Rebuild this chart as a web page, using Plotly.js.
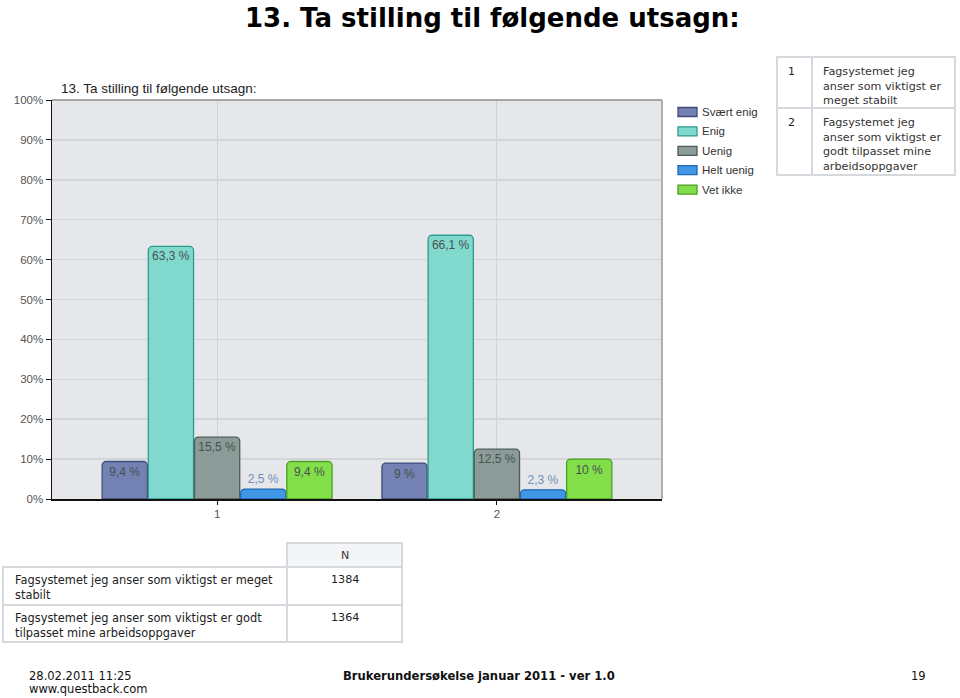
<!DOCTYPE html>
<html><head><meta charset="utf-8">
<script src="https://cdn.plot.ly/plotly-3.0.1.min.js"></script>
<style>html,body{margin:0;padding:0;background:#fff;}#chart{width:960px;height:698px;}</style>
</head><body><div id="chart"></div>
<script>
// ---- data ----
const pageTitle = '13. Ta stilling til følgende utsagn:';
const chartTitle = '13. Ta stilling til følgende utsagn:';
const categories = ['1', '2'];
const seriesNames = ['Svært enig', 'Enig', 'Uenig', 'Helt uenig', 'Vet ikke'];
const svaertEnig = [9.4, 9.0];
const enig = [63.3, 66.1];
const uenig = [15.5, 12.5];
const heltUenig = [2.5, 2.3];
const vetIkke = [9.4, 10.0];
const yTickVals = [0, 10, 20, 30, 40, 50, 60, 70, 80, 90, 100];
const statementsWrapped = ['Fagsystemet jeg<br>anser som viktigst er<br>meget stabilt',
                           'Fagsystemet jeg<br>anser som viktigst er<br>godt tilpasset mine<br>arbeidsoppgaver'];
const statementsN = ['Fagsystemet jeg anser som viktigst er meget<br>stabilt',
                     'Fagsystemet jeg anser som viktigst er godt<br>tilpasset mine arbeidsoppgaver'];
const nValues = [1384, 1364];
const footerDate = '28.02.2011 11:25';
const footerSite = 'www.questback.com';
const footerCenter = 'Brukerundersøkelse januar 2011 - ver 1.0';
const footerPage = '19';

// ---- styles ----
const fills = ['#7382b2', '#80d9cc', '#8b9b98', '#4197e6', '#82df4a'];
const borders = ['#3f4d76', '#2f9b8d', '#4f5a58', '#1e68b6', '#4b9f24'];
const allValues = [svaertEnig, enig, uenig, heltUenig, vetIkke];

const L = 52, R = 662, T = 100, B = 499;
const px = v => (v - L) / (R - L);
const py = v => (B - v) / (B - T);

function fmt(v) { return String(v).replace('.', ',') + ' %'; }

const traces = seriesNames.map((name, i) => ({
  type: 'bar', name: name, x: categories, y: allValues[i],
  text: allValues[i].map(fmt),
  textposition: allValues[i].map(v => v < 5 ? 'outside' : 'inside'),
  insidetextanchor: 'end',
  constraintext: 'none',
  cliponaxis: false,
  insidetextfont: {family: 'Arial, Liberation Sans', size: 12, color: '#46524f'},
  outsidetextfont: {family: 'Arial, Liberation Sans', size: 12, color: '#7090b4'},
  marker: {color: fills[i], line: {color: borders[i], width: 1.3}, cornerradius: 4},
  hoverinfo: 'skip', showlegend: false
}));

const shapes = [
  {type: 'line', xref: 'paper', yref: 'paper', x0: 0, x1: 1, y0: 1, y1: 1, line: {color: '#8c8c8c', width: 1.5}},
  {type: 'line', xref: 'paper', yref: 'paper', x0: 1, x1: 1, y0: 0, y1: 1, line: {color: '#9a9a9a', width: 1.5}}
];
const annotations = [
  {text: pageTitle, xref: 'paper', yref: 'paper', x: px(492.5), y: py(1), xanchor: 'center', yanchor: 'top', showarrow: false,
   font: {family: 'DejaVu Sans', size: 26, color: '#000', weight: 'bold'}},
  {text: chartTitle, xref: 'paper', yref: 'paper', x: px(59), y: py(89), xanchor: 'left', yanchor: 'middle', showarrow: false,
   font: {family: 'Arial, Liberation Sans', size: 13.5, color: '#222'}}
];

// custom legend
seriesNames.forEach((name, i) => {
  const yc = 112 + i * 19.4;
  shapes.push({type: 'rect', xref: 'paper', yref: 'paper', x0: px(678), x1: px(697), y0: py(yc - 4.5), y1: py(yc + 4.5),
    fillcolor: fills[i], line: {color: borders[i], width: 1.3}});
  annotations.push({text: name, xref: 'paper', yref: 'paper', x: px(700), y: py(yc), xanchor: 'left', yanchor: 'middle', showarrow: false,
    font: {family: 'Arial, Liberation Sans', size: 11.5, color: '#333'}});
});

// right statement table
const tb = {x0: 777, x1: 955, y0: 57, y1: 175, xc: 812, yr: 108};
const gridCol = '#d5d9de';
shapes.push({type: 'rect', xref: 'paper', yref: 'paper', x0: px(tb.x0), x1: px(tb.x1), y0: py(tb.y0), y1: py(tb.y1), line: {color: gridCol, width: 2}});
shapes.push({type: 'line', xref: 'paper', yref: 'paper', x0: px(tb.xc), x1: px(tb.xc), y0: py(tb.y0), y1: py(tb.y1), line: {color: gridCol, width: 2}});
shapes.push({type: 'line', xref: 'paper', yref: 'paper', x0: px(tb.x0), x1: px(tb.x1), y0: py(tb.yr), y1: py(tb.yr), line: {color: gridCol, width: 2}});
const rowTops = [63, 114];
categories.forEach((c, i) => {
  annotations.push({text: c, xref: 'paper', yref: 'paper', x: px(786), y: py(rowTops[i]), xanchor: 'left', yanchor: 'top', showarrow: false,
    font: {family: 'DejaVu Sans, Verdana', size: 11, color: '#222'}});
  annotations.push({text: statementsWrapped[i], xref: 'paper', yref: 'paper', x: px(821), y: py(rowTops[i]), xanchor: 'left', yanchor: 'top', align: 'left', showarrow: false,
    font: {family: 'DejaVu Sans, Verdana', size: 11.2, color: '#333'}});
});

// bottom N table
shapes.push({type: 'rect', xref: 'paper', yref: 'paper', x0: px(287), x1: px(402), y0: py(543), y1: py(567), fillcolor: '#f3f5f7', line: {color: gridCol, width: 2}});
shapes.push({type: 'rect', xref: 'paper', yref: 'paper', x0: px(3), x1: px(402), y0: py(567), y1: py(642), line: {color: gridCol, width: 2}});
shapes.push({type: 'line', xref: 'paper', yref: 'paper', x0: px(3), x1: px(402), y0: py(605), y1: py(605), line: {color: gridCol, width: 2}});
shapes.push({type: 'line', xref: 'paper', yref: 'paper', x0: px(287), x1: px(287), y0: py(567), y1: py(642), line: {color: gridCol, width: 2}});
annotations.push({text: 'N', xref: 'paper', yref: 'paper', x: px(344.5), y: py(555), xanchor: 'center', yanchor: 'middle', showarrow: false,
  font: {family: 'DejaVu Sans, Verdana', size: 11, color: '#333'}});
const nRowTops = [571, 609];
nValues.forEach((n, i) => {
  annotations.push({text: statementsN[i], xref: 'paper', yref: 'paper', x: px(13), y: py(nRowTops[i]), xanchor: 'left', yanchor: 'top', align: 'left', showarrow: false,
    font: {family: 'DejaVu Sans, Verdana', size: 11.4, color: '#222'}});
  annotations.push({text: String(n), xref: 'paper', yref: 'paper', x: px(344.5), y: py(nRowTops[i]), xanchor: 'center', yanchor: 'top', showarrow: false,
    font: {family: 'DejaVu Sans, Verdana', size: 11.2, color: '#222'}});
});

// footer
annotations.push({text: footerDate, xref: 'paper', yref: 'paper', x: px(27), y: py(676), xanchor: 'left', yanchor: 'middle', showarrow: false,
  font: {family: 'DejaVu Sans', size: 11.5, color: '#111'}});
annotations.push({text: footerSite, xref: 'paper', yref: 'paper', x: px(27), y: py(689), xanchor: 'left', yanchor: 'middle', showarrow: false,
  font: {family: 'DejaVu Sans', size: 11.5, color: '#111'}});
annotations.push({text: '<b>' + footerCenter + '</b>', xref: 'paper', yref: 'paper', x: px(478.5), y: py(676), xanchor: 'center', yanchor: 'middle', showarrow: false,
  font: {family: 'DejaVu Sans', size: 11.6, color: '#111'}});
annotations.push({text: footerPage, xref: 'paper', yref: 'paper', x: px(928), y: py(676), xanchor: 'right', yanchor: 'middle', showarrow: false,
  font: {family: 'DejaVu Sans', size: 11.5, color: '#111'}});

const layout = {
  width: 960, height: 698,
  margin: {l: L, r: 960 - R, t: T, b: 698 - B, pad: 0},
  paper_bgcolor: '#ffffff', plot_bgcolor: '#e5e7ea',
  barmode: 'group', bargap: 0.175, bargroupgap: 0.02,
  showlegend: false,
  xaxis: {type: 'category', categoryorder: 'array', categoryarray: categories, range: [-0.59, 1.59],
    showgrid: true, gridcolor: '#cfd3d7', gridwidth: 1, showline: true, linecolor: '#111', linewidth: 1.5,
    ticks: 'outside', ticklen: 4, tickcolor: '#111', tickfont: {family: 'Arial, Liberation Sans', size: 11.5, color: '#555'},
    fixedrange: true, zeroline: false},
  yaxis: {range: [0, 100], tickvals: yTickVals, ticktext: yTickVals.map(v => v + '%'),
    showgrid: true, gridcolor: '#d3d6d9', gridwidth: 1.5, showline: true, linecolor: '#111', linewidth: 1.5,
    ticks: 'outside', ticklen: 5, tickcolor: '#111', tickfont: {family: 'Arial, Liberation Sans', size: 11.5, color: '#555'},
    zeroline: false, fixedrange: true},
  shapes: shapes, annotations: annotations
};

Plotly.newPlot('chart', traces, layout, {displayModeBar: false, staticPlot: true});
</script></body></html>
